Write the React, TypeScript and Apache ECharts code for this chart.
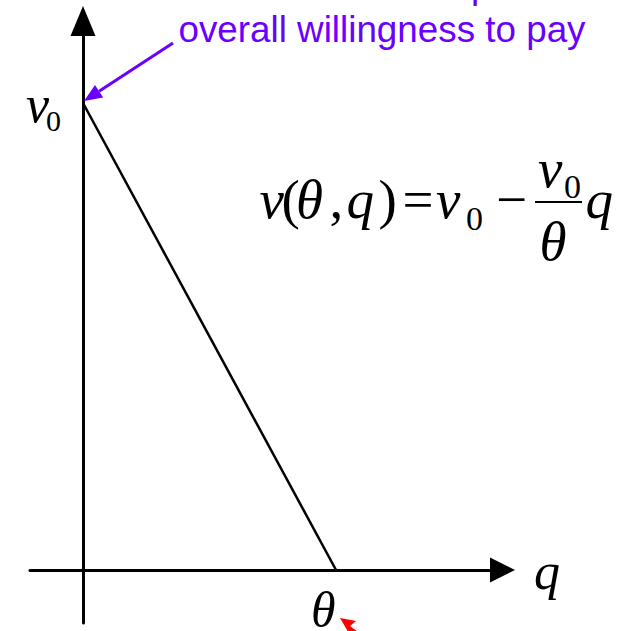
import React, { useEffect, useRef } from "react";
import * as echarts from "echarts";

// Model: v(θ,q) = v0 − (v0/θ) q, drawn for q in [0, θ]
const THETA = 1;
const V0 = 1;
const qValues = [0, THETA];
const vValues = [V0, 0];
const xRange = [-0.2095, 1.658];
const yRange = [-0.1135, 1.1756];

const PURPLE = "#6a00ff";
const SERIF = "'Liberation Serif', 'Times New Roman', serif";
const SANS = "'Liberation Sans', Arial, sans-serif";

const txt = (text: string, x: number, y: number, font: string, fill = "#000") => ({
  type: "text",
  x,
  y,
  z: 100,
  style: {
    text,
    font,
    fill,
    textAlign: "left",
    textVerticalAlign: "middle",
    align: "left",
    verticalAlign: "middle",
  },
});

export default function App() {
  const ref = useRef<HTMLDivElement>(null);
  useEffect(() => {
    document.body.style.margin = "0";
    const chart = echarts.init(ref.current!, undefined, { renderer: "svg" });
    const axisCommon = {
      type: "value",
      axisTick: { show: false },
      axisLabel: { show: false },
      splitLine: { show: false },
    };
    chart.setOption({
      animation: false,
      backgroundColor: "#fff",
      grid: { left: 30, right: 121.5, top: 21, bottom: 8 },
      xAxis: {
        ...axisCommon,
        min: xRange[0],
        max: xRange[1],
        axisLine: {
          show: true,
          onZero: true,
          symbol: ["none", "triangle"],
          symbolSize: [25, 25],
          lineStyle: { color: "#000", width: 3 },
        },
      },
      yAxis: {
        ...axisCommon,
        min: yRange[0],
        max: yRange[1],
        axisLine: {
          show: true,
          onZero: true,
          symbol: ["none", "triangle"],
          symbolSize: [25, 30],
          lineStyle: { color: "#000", width: 3 },
        },
      },
      series: [
        {
          type: "line",
          data: qValues.map((q, i) => [q, vValues[i]]),
          showSymbol: false,
          symbol: "none",
          lineStyle: { color: "#000", width: 2.5 },
          z: 3,
        },
      ],
    });

    const pV = chart.convertToPixel({ gridIndex: 0 }, [0, V0]) as number[];
    const pT = chart.convertToPixel({ gridIndex: 0 }, [THETA, 0]) as number[];

    // purple arrow toward (0, v0)
    const start = [173, 43];
    const tip = [pV[0] + 1, pV[1] - 2];
    const dx = tip[0] - start[0];
    const dy = tip[1] - start[1];
    const len = Math.hypot(dx, dy);
    const ux = dx / len, uy = dy / len;
    const headL = 18, headW = 7.5;
    const base = [tip[0] - headL * ux, tip[1] - headL * uy];
    const nx = -uy, ny = ux;

    const italicM = `italic 55px ${SERIF}`;
    const regM = `55px ${SERIF}`;
    const sub34 = `34px ${SERIF}`;
    const italic52 = `italic 52px ${SERIF}`;

    chart.setOption({
      graphic: [
        txt("overall willingness to pay", 178.5, 29.4, `36.8px ${SANS}`, PURPLE),
        txt("p", 471, -14.6, `36.8px ${SANS}`, PURPLE),
        {
          type: "line",
          z: 100,
          shape: { x1: start[0], y1: start[1], x2: base[0], y2: base[1] },
          style: { stroke: PURPLE, lineWidth: 3 },
        },
        {
          type: "polygon",
          z: 100,
          shape: {
            points: [
              tip,
              [base[0] + headW * nx, base[1] + headW * ny],
              [base[0] - headW * nx, base[1] - headW * ny],
            ],
          },
          style: { fill: PURPLE },
        },
        // v0 label
        txt("v", pV[0] - 57, pV[1] + 1.5, italic52),
        txt("0", pV[0] - 37, pV[1] + 17, `30px ${SERIF}`),
        // θ label
        txt("θ", pT[0] - 25, pT[1] + 40.5, `italic 50px ${SERIF}`),
        // q label
        txt("q", 534, 571.5, italic52),
        // red arrowhead
        {
          type: "polygon",
          z: 100,
          shape: {
            points: [
              [pT[0] + 4, pT[1] + 48],
              [pT[0] + 20, pT[1] + 51],
              [pT[0] + 14, pT[1] + 56],
              [pT[0] + 22, pT[1] + 62],
              [pT[0] + 12, pT[1] + 62],
              [pT[0] + 11, pT[1] + 60],
            ],
          },
          style: { fill: "#ff0000" },
        },
        // equation
        txt("v", 259.5, 199.4, italicM),
        txt("(", 281.5, 199.4, regM),
        txt("θ", 296, 199.4, italicM),
        txt(",", 329.5, 199.4, regM),
        txt("q", 346.5, 199.4, italicM),
        txt(")", 378.5, 199.4, regM),
        txt("=", 402.5, 199.4, regM),
        txt("v", 436, 199.4, italicM),
        txt("0", 466, 218.5, sub34),
        txt("−", 496, 199.4, regM),
        txt("v", 538, 168.4, italicM),
        txt("0", 564, 186.5, sub34),
        {
          type: "line",
          z: 100,
          shape: { x1: 535, y1: 202, x2: 582, y2: 202 },
          style: { stroke: "#000", lineWidth: 2 },
        },
        txt("θ", 539.5, 241.5, italicM),
        txt("q", 585.5, 199.4, italicM),
      ],
    });
    return () => chart.dispose();
  }, []);
  return (
    <div
      ref={ref}
      style={{ position: "fixed", left: 0, top: 0, width: 624, height: 631 }}
    />
  );
}
